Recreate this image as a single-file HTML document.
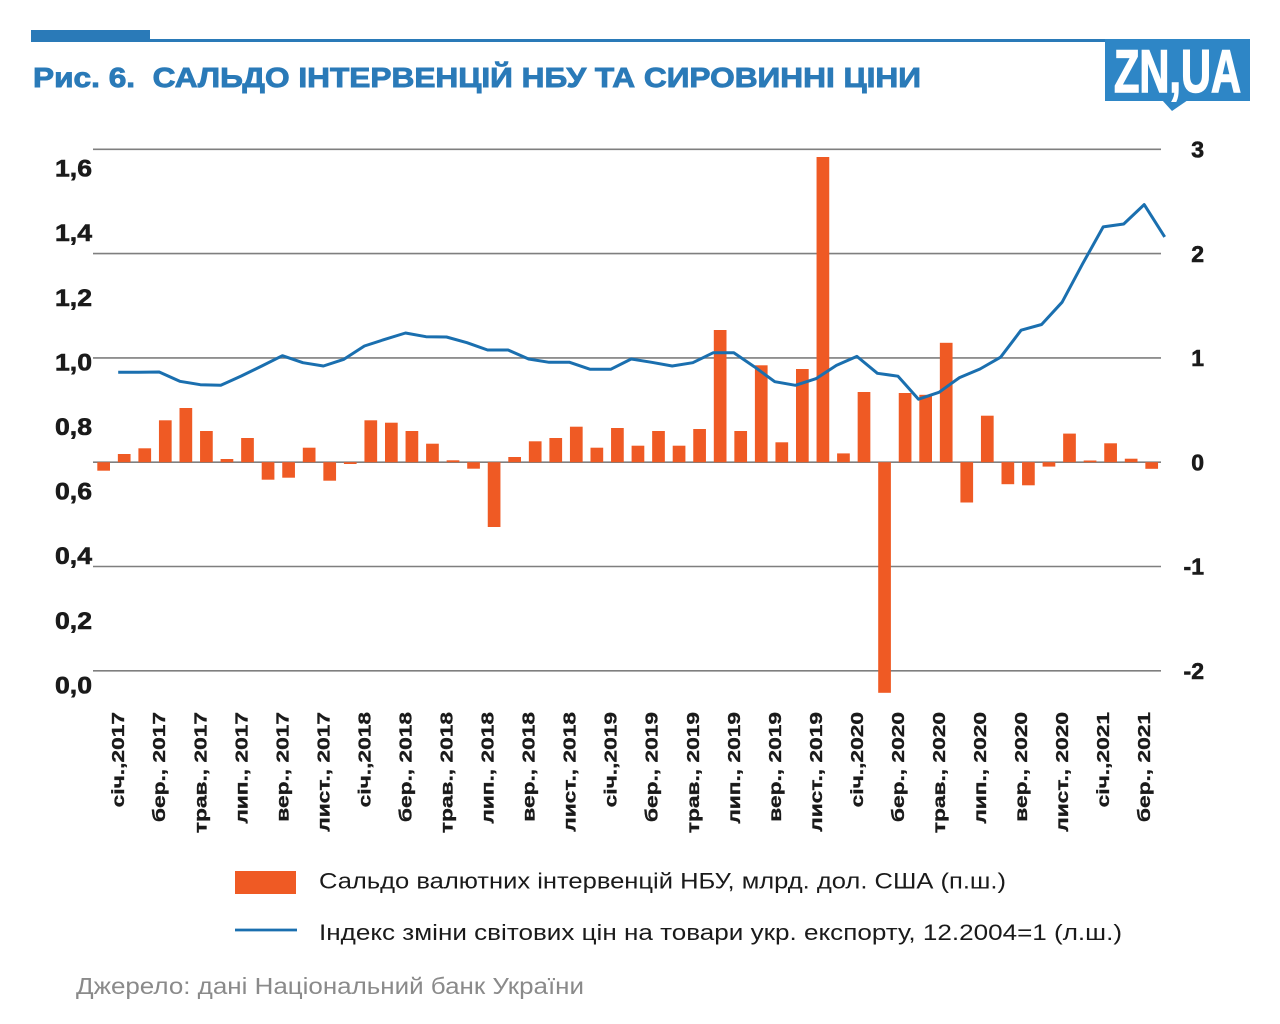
<!DOCTYPE html>
<html>
<head>
<meta charset="utf-8">
<style>
html,body{margin:0;padding:0;background:#fff;}
svg{display:block;}
text{font-family:"Liberation Sans","Noto Sans CJK SC",sans-serif;}
</style>
</head>
<body>
<svg width="1280" height="1024" viewBox="0 0 1280 1024" xmlns="http://www.w3.org/2000/svg">
<rect x="0" y="0" width="1280" height="1024" fill="#ffffff"/>

<!-- header bar -->
<rect x="31" y="30" width="119" height="12" fill="#2a7ab8"/>
<rect x="31" y="39" width="1075" height="3" fill="#2a7ab8"/>

<!-- title -->
<text x="33" y="87" font-size="28" font-weight="bold" fill="#2a7ab8" stroke="#2a7ab8" stroke-width="0.9" textLength="888" lengthAdjust="spacingAndGlyphs">Рис. 6.&#160; САЛЬДО ІНТЕРВЕНЦІЙ НБУ ТА СИРОВИННІ ЦІНИ</text>

<!-- logo -->
<rect x="1105" y="39" width="145" height="62" fill="#2e86c6"/>
<polygon points="1162,100 1188,100 1172,111" fill="#2e86c6"/>
<text x="1114" y="92" font-size="60" font-weight="bold" fill="#ffffff" stroke="#ffffff" stroke-width="1.5" textLength="127" lengthAdjust="spacingAndGlyphs">ZN,UA</text>

<!-- gridlines -->
<g stroke="#7f7f7f" stroke-width="1.6">
<line x1="93" y1="149.3" x2="1161" y2="149.3"/>
<line x1="93" y1="253.6" x2="1161" y2="253.6"/>
<line x1="93" y1="357.9" x2="1161" y2="357.9"/>
<line x1="93" y1="462.2" x2="1161" y2="462.2"/>
<line x1="93" y1="566.5" x2="1161" y2="566.5"/>
<line x1="93" y1="670.8" x2="1161" y2="670.8"/>
</g>

<!-- left axis labels -->
<g font-size="24" font-weight="bold" fill="#1a1a1a" stroke="#1a1a1a" stroke-width="0.6" text-anchor="end">
<text x="92" y="176.6" textLength="37" lengthAdjust="spacingAndGlyphs">1,6</text>
<text x="92" y="241.2" textLength="37" lengthAdjust="spacingAndGlyphs">1,4</text>
<text x="92" y="305.8" textLength="37" lengthAdjust="spacingAndGlyphs">1,2</text>
<text x="92" y="370.4" textLength="37" lengthAdjust="spacingAndGlyphs">1,0</text>
<text x="92" y="435.0" textLength="37" lengthAdjust="spacingAndGlyphs">0,8</text>
<text x="92" y="499.6" textLength="37" lengthAdjust="spacingAndGlyphs">0,6</text>
<text x="92" y="564.2" textLength="37" lengthAdjust="spacingAndGlyphs">0,4</text>
<text x="92" y="628.8" textLength="37" lengthAdjust="spacingAndGlyphs">0,2</text>
<text x="92" y="693.4" textLength="37" lengthAdjust="spacingAndGlyphs">0,0</text>
</g>

<!-- right axis labels -->
<g font-size="23" font-weight="bold" fill="#1a1a1a" stroke="#1a1a1a" stroke-width="0.6" text-anchor="end">
<text x="1204" y="157.5">3</text>
<text x="1204" y="261.8">2</text>
<text x="1204" y="366.1">1</text>
<text x="1204" y="470.4">0</text>
<text x="1204" y="574.7">-1</text>
<text x="1204" y="679.0">-2</text>
</g>

<!-- bars -->
<g fill="#ef5a24">
<rect x="97.3" y="462.2" width="12.7" height="8.5"/>
<rect x="117.85" y="454" width="12.7" height="8.2"/>
<rect x="138.4" y="448.3" width="12.7" height="13.9"/>
<rect x="158.95" y="420.3" width="12.7" height="41.9"/>
<rect x="179.5" y="408" width="12.7" height="54.2"/>
<rect x="200.05" y="431" width="12.7" height="31.2"/>
<rect x="220.6" y="459" width="12.7" height="3.2"/>
<rect x="241.15" y="438" width="12.7" height="24.2"/>
<rect x="261.7" y="462.2" width="12.7" height="17.5"/>
<rect x="282.25" y="462.2" width="12.7" height="15.5"/>
<rect x="302.8" y="447.7" width="12.7" height="14.5"/>
<rect x="323.35" y="462.2" width="12.7" height="18.5"/>
<rect x="343.9" y="462.2" width="12.7" height="1.8"/>
<rect x="364.45" y="420.3" width="12.7" height="41.9"/>
<rect x="385.0" y="422.7" width="12.7" height="39.5"/>
<rect x="405.55" y="431" width="12.7" height="31.2"/>
<rect x="426.1" y="443.7" width="12.7" height="18.5"/>
<rect x="446.65" y="460.3" width="12.7" height="1.9"/>
<rect x="467.2" y="462.2" width="12.7" height="6.5"/>
<rect x="487.75" y="462.2" width="12.7" height="64.8"/>
<rect x="508.3" y="457" width="12.7" height="5.2"/>
<rect x="528.85" y="441.3" width="12.7" height="20.9"/>
<rect x="549.4" y="438" width="12.7" height="24.2"/>
<rect x="569.95" y="426.7" width="12.7" height="35.5"/>
<rect x="590.5" y="447.7" width="12.7" height="14.5"/>
<rect x="611.05" y="428" width="12.7" height="34.2"/>
<rect x="631.6" y="445.7" width="12.7" height="16.5"/>
<rect x="652.15" y="431" width="12.7" height="31.2"/>
<rect x="672.7" y="445.7" width="12.7" height="16.5"/>
<rect x="693.25" y="429" width="12.7" height="33.2"/>
<rect x="713.8" y="330" width="12.7" height="132.2"/>
<rect x="734.35" y="431" width="12.7" height="31.2"/>
<rect x="754.9" y="365.3" width="12.7" height="96.9"/>
<rect x="775.45" y="442.3" width="12.7" height="19.9"/>
<rect x="796.0" y="369" width="12.7" height="93.2"/>
<rect x="816.55" y="157" width="12.7" height="305.2"/>
<rect x="837.1" y="453.4" width="12.7" height="8.8"/>
<rect x="857.65" y="392" width="12.7" height="70.2"/>
<rect x="878.2" y="462.2" width="12.7" height="230.6"/>
<rect x="898.75" y="393" width="12.7" height="69.2"/>
<rect x="919.3" y="394.8" width="12.7" height="67.4"/>
<rect x="939.85" y="342.8" width="12.7" height="119.4"/>
<rect x="960.4" y="462.2" width="12.7" height="40.3"/>
<rect x="980.95" y="415.7" width="12.7" height="46.5"/>
<rect x="1001.5" y="462.2" width="12.7" height="22"/>
<rect x="1022.05" y="462.2" width="12.7" height="23.1"/>
<rect x="1042.6" y="462.2" width="12.7" height="4.4"/>
<rect x="1063.15" y="433.6" width="12.7" height="28.6"/>
<rect x="1083.7" y="460.5" width="12.7" height="1.7"/>
<rect x="1104.25" y="443.3" width="12.7" height="18.9"/>
<rect x="1124.8" y="458.7" width="12.7" height="3.5"/>
<rect x="1145.35" y="462.2" width="12.7" height="6.6"/>
</g>

<!-- line -->
<polyline fill="none" stroke="#1a6faf" stroke-width="3" stroke-linejoin="round" points="
118.2,372.3 138.7,372.3 159.2,372 179.8,381.3 200.3,384.7 220.8,385.3 241.3,376 261.8,366 282.4,355.7 302.9,362.7
323.4,366 343.9,359.3 364.4,346 385.0,339.3 405.5,333 426.0,336.7 446.5,337 467.0,342.7 487.6,350 508.1,350
528.6,359 549.1,362.3 569.6,362.3 590.2,369.3 610.7,369.3 631.2,359 651.7,362.3 672.2,366 692.8,362.7 713.3,352.7
733.8,352.7 754.3,366.7 774.8,381.7 795.4,385.3 815.9,378.7 836.4,365.4 856.9,356.4 877.4,373.3 898.0,376.2 918.5,399.2
939.0,392.3 959.5,377.6 980.0,369 1000.6,357.2 1021.1,330.2 1041.6,324.5 1062.1,302.2 1082.6,263.8 1103.2,226.9 1123.7,224
1144.2,204.6 1164.7,236.9"/>

<!-- x labels -->
<g font-size="17.5" font-weight="bold" fill="#1a1a1a" stroke="#1a1a1a" stroke-width="0.35" text-anchor="end">
<text transform="translate(124.2,712) rotate(-90) scale(1.3,1)">січ.,2017</text>
<text transform="translate(165.2,712) rotate(-90) scale(1.3,1)">бер., 2017</text>
<text transform="translate(206.3,712) rotate(-90) scale(1.3,1)">трав., 2017</text>
<text transform="translate(247.3,712) rotate(-90) scale(1.3,1)">лип., 2017</text>
<text transform="translate(288.4,712) rotate(-90) scale(1.3,1)">вер., 2017</text>
<text transform="translate(329.4,712) rotate(-90) scale(1.3,1)">лист., 2017</text>
<text transform="translate(370.4,712) rotate(-90) scale(1.3,1)">січ.,2018</text>
<text transform="translate(411.5,712) rotate(-90) scale(1.3,1)">бер., 2018</text>
<text transform="translate(452.5,712) rotate(-90) scale(1.3,1)">трав., 2018</text>
<text transform="translate(493.6,712) rotate(-90) scale(1.3,1)">лип., 2018</text>
<text transform="translate(534.6,712) rotate(-90) scale(1.3,1)">вер., 2018</text>
<text transform="translate(575.6,712) rotate(-90) scale(1.3,1)">лист., 2018</text>
<text transform="translate(616.7,712) rotate(-90) scale(1.3,1)">січ.,2019</text>
<text transform="translate(657.7,712) rotate(-90) scale(1.3,1)">бер., 2019</text>
<text transform="translate(698.8,712) rotate(-90) scale(1.3,1)">трав., 2019</text>
<text transform="translate(739.8,712) rotate(-90) scale(1.3,1)">лип., 2019</text>
<text transform="translate(780.8,712) rotate(-90) scale(1.3,1)">вер., 2019</text>
<text transform="translate(821.9,712) rotate(-90) scale(1.3,1)">лист., 2019</text>
<text transform="translate(862.9,712) rotate(-90) scale(1.3,1)">січ.,2020</text>
<text transform="translate(904.0,712) rotate(-90) scale(1.3,1)">бер., 2020</text>
<text transform="translate(945.0,712) rotate(-90) scale(1.3,1)">трав., 2020</text>
<text transform="translate(986.0,712) rotate(-90) scale(1.3,1)">лип., 2020</text>
<text transform="translate(1027.1,712) rotate(-90) scale(1.3,1)">вер., 2020</text>
<text transform="translate(1068.1,712) rotate(-90) scale(1.3,1)">лист., 2020</text>
<text transform="translate(1109.2,712) rotate(-90) scale(1.3,1)">січ.,2021</text>
<text transform="translate(1150.2,712) rotate(-90) scale(1.3,1)">бер., 2021</text>
</g>

<!-- legend -->
<rect x="235" y="871" width="61" height="23" fill="#ef5a24"/>
<text x="319" y="888.5" font-size="22.5" fill="#1a1a1a" textLength="687" lengthAdjust="spacingAndGlyphs">Сальдо валютних інтервенцій НБУ, млрд. дол. США (п.ш.)</text>
<line x1="235" y1="930" x2="297" y2="930" stroke="#1a6faf" stroke-width="2.8"/>
<text x="319" y="940" font-size="22.5" fill="#1a1a1a" textLength="803" lengthAdjust="spacingAndGlyphs">Індекс зміни світових цін на товари укр. експорту, 12.2004=1 (л.ш.)</text>

<!-- source -->
<text x="76" y="994" font-size="23" fill="#8a8a8a" textLength="508" lengthAdjust="spacingAndGlyphs">Джерело: дані Національний банк України</text>
</svg>
</body>
</html>
